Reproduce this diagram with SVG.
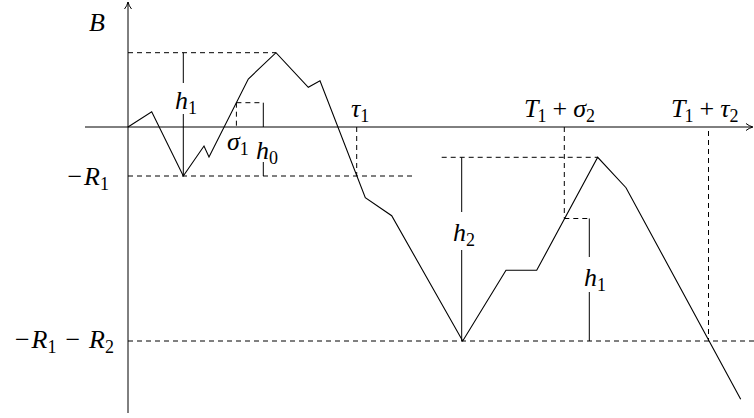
<svg xmlns="http://www.w3.org/2000/svg" width="754" height="418" viewBox="0 0 754 418">
<rect width="754" height="418" fill="#fff"/>
<g id="axes" stroke="#000" stroke-width="1" fill="none">
<line x1="128" y1="413" x2="128" y2="2"/>
<path d="M124.5,9 Q127,6 128,2 Q129,6 131.5,9"/>
<line x1="85" y1="127" x2="752" y2="127"/>
<path d="M746,123.5 Q749,126 753,127 Q749,128 746,130.5"/>
</g>
<g id="guides" stroke="#000" stroke-width="1" fill="none" stroke-dasharray="5,4">
<line x1="128" y1="52.7" x2="276" y2="52.7"/>
<line x1="128" y1="176" x2="413" y2="176"/>
<line x1="128" y1="341" x2="754" y2="341"/>
<line x1="236.4" y1="102.7" x2="263.3" y2="102.7"/>
<line x1="236.4" y1="102.7" x2="236.4" y2="127"/>
<line x1="356.7" y1="127" x2="356.7" y2="176"/>
<line x1="441.7" y1="157.3" x2="597.7" y2="157.3"/>
<line x1="564.3" y1="127" x2="564.3" y2="218.5"/>
<line x1="564.3" y1="218.5" x2="589.3" y2="218.5"/>
<line x1="708.5" y1="131" x2="708.5" y2="341"/>
</g>
<g id="heights" stroke="#000" stroke-width="1" fill="none">
<line x1="183.3" y1="52.7" x2="183.3" y2="83"/>
<line x1="183.3" y1="114" x2="183.3" y2="176"/>
<line x1="263.3" y1="102.7" x2="263.3" y2="127"/>
<line x1="263.3" y1="162" x2="263.3" y2="176"/>
<line x1="461.7" y1="157.3" x2="461.7" y2="212"/>
<line x1="461.7" y1="250" x2="461.7" y2="341"/>
<line x1="589.3" y1="218.5" x2="589.3" y2="257"/>
<line x1="589.3" y1="292" x2="589.3" y2="341"/>
</g>
<g id="path">
<polyline stroke="#000" stroke-width="1.1" fill="none" points="128,127 151.7,111.7 183.3,176 204,146 209,157 248.3,79 276,52.7 308.3,87.3 320,80.7 365.3,197.7 391.7,215.7 462.7,341 506,270.3 536.7,270.3 597.7,157.3 626,187.7 740.7,399.3"/>
</g>
<g id="labels">
<text style="font-family:'Liberation Serif',serif;font-size:26px;font-style:italic" x="89" y="31">B</text>
<text style="font-family:'Liberation Serif',serif;font-size:26px" x="351" y="117"><tspan style="font-style:italic">τ</tspan><tspan style="font-size:18px" dy="5">1</tspan></text>
<text style="font-family:'Liberation Serif',serif;font-size:26px" x="524" y="117"><tspan style="font-style:italic">T</tspan><tspan style="font-size:18px" dy="5" dx="-1">1</tspan><tspan dy="-5" dx="6">+</tspan><tspan style="font-style:italic" dx="6">σ</tspan><tspan style="font-size:18px" dy="5">2</tspan></text>
<text style="font-family:'Liberation Serif',serif;font-size:26px" x="671" y="117"><tspan style="font-style:italic">T</tspan><tspan style="font-size:18px" dy="5" dx="-1">1</tspan><tspan dy="-5" dx="6">+</tspan><tspan style="font-style:italic" dx="6">τ</tspan><tspan style="font-size:18px" dy="5">2</tspan></text>
<text style="font-family:'Liberation Serif',serif;font-size:26px" x="109" y="185" text-anchor="end">−<tspan style="font-style:italic" dx="2">R</tspan><tspan style="font-size:18px" dy="5">1</tspan></text>
<text style="font-family:'Liberation Serif',serif;font-size:26px" x="114" y="348" text-anchor="end">−<tspan style="font-style:italic" dx="2">R</tspan><tspan style="font-size:18px" dy="5">1</tspan><tspan dy="-5" dx="9">−</tspan><tspan style="font-style:italic" dx="9">R</tspan><tspan style="font-size:18px" dy="5">2</tspan></text>
<text style="font-family:'Liberation Serif',serif;font-size:26px" x="175" y="109"><tspan style="font-style:italic">h</tspan><tspan style="font-size:18px" dy="5">1</tspan></text>
<text style="font-family:'Liberation Serif',serif;font-size:26px" x="227" y="150"><tspan style="font-style:italic">σ</tspan><tspan style="font-size:18px" dy="5">1</tspan></text>
<text style="font-family:'Liberation Serif',serif;font-size:26px" x="256" y="159"><tspan style="font-style:italic">h</tspan><tspan style="font-size:18px" dy="5">0</tspan></text>
<text style="font-family:'Liberation Serif',serif;font-size:26px" x="453" y="241"><tspan style="font-style:italic">h</tspan><tspan style="font-size:18px" dy="5">2</tspan></text>
<text style="font-family:'Liberation Serif',serif;font-size:26px" x="584" y="286"><tspan style="font-style:italic">h</tspan><tspan style="font-size:18px" dy="5">1</tspan></text>
</g>
</svg>
